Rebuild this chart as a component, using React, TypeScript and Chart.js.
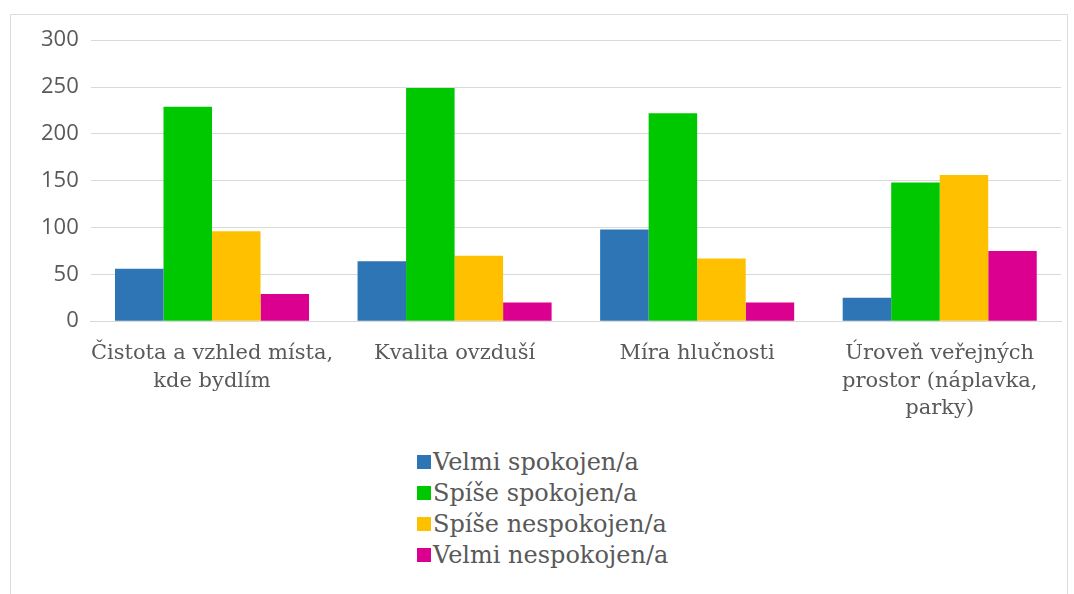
import React, { useEffect, useRef } from "react";
import { Chart, registerables } from "chart.js";

Chart.register(...registerables);

const categories: string[][] = [
  ["Čistota a vzhled místa,", "kde bydlím"],
  ["Kvalita ovzduší"],
  ["Míra hlučnosti"],
  ["Úroveň veřejných", "prostor (náplavka,", "parky)"],
];

const seriesNames = [
  "Velmi spokojen/a",
  "Spíše spokojen/a",
  "Spíše nespokojen/a",
  "Velmi nespokojen/a",
];

const velmiSpokojen = [56, 64, 98, 25];
const spiseSpokojen = [229, 249, 222, 148];
const spiseNespokojen = [96, 70, 67, 156];
const velmiNespokojen = [29, 20, 20, 75];

const seriesColors = ["#2E75B6", "#00C800", "#FFC000", "#DC0090"];

const yMin = 0;
const yMax = 300;
const yStep = 50;

const serif = "'DejaVu Serif', serif";
const sans = "'Open Sans', sans-serif";

export default function App() {
  const ref = useRef<HTMLCanvasElement | null>(null);

  useEffect(() => {
    if (!ref.current) return;
    const values = [velmiSpokojen, spiseSpokojen, spiseNespokojen, velmiNespokojen];
    const chart = new Chart(ref.current, {
      type: "bar",
      data: {
        labels: categories,
        datasets: seriesNames.map((name, i) => ({
          label: name,
          data: values[i],
          backgroundColor: seriesColors[i],
          borderWidth: 0,
          categoryPercentage: 0.8,
          barPercentage: 1.0,
        })),
      },
      options: {
        animation: false,
        responsive: false,
        maintainAspectRatio: false,
        layout: { padding: { left: 18, right: 4, top: 25, bottom: 0 } },
        plugins: {
          legend: { display: false },
          tooltip: { enabled: false },
        },
        scales: {
          x: {
            grid: { display: false, drawTicks: false },
            border: { display: true, color: "#d9d9d9", width: 1 },
            ticks: {
              color: "#595959",
              font: { family: serif, size: 21, lineHeight: 1.33 },
              padding: 18,
              maxRotation: 0,
              autoSkip: false,
            },
          },
          y: {
            min: yMin,
            max: yMax,
            grid: { color: "#d9d9d9", drawTicks: false },
            border: { display: false },
            ticks: {
              stepSize: yStep,
              color: "#595959",
              font: { family: sans, size: 22 },
              padding: 12,
            },
          },
        },
      },
    });
    return () => chart.destroy();
  }, []);

  return (
    <div
      style={{
        position: "absolute",
        left: 10,
        top: 14,
        width: 1056,
        height: 590,
        border: "1px solid #dcdcdc",
        background: "#fff",
      }}
    >
      <canvas ref={ref} width={1054} height={426} style={{ display: "block" }} />
      <div
        style={{
          position: "absolute",
          left: 406,
          top: 431,
          fontFamily: serif,
          fontSize: 24,
          color: "#595959",
        }}
      >
        {seriesNames.map((name, i) => (
          <div key={name} style={{ display: "flex", alignItems: "center", height: 31 }}>
            <span
              style={{
                display: "inline-block",
                width: 14,
                height: 14,
                background: seriesColors[i],
                marginRight: 2,
              }}
            />
            <span>{name}</span>
          </div>
        ))}
      </div>
    </div>
  );
}
